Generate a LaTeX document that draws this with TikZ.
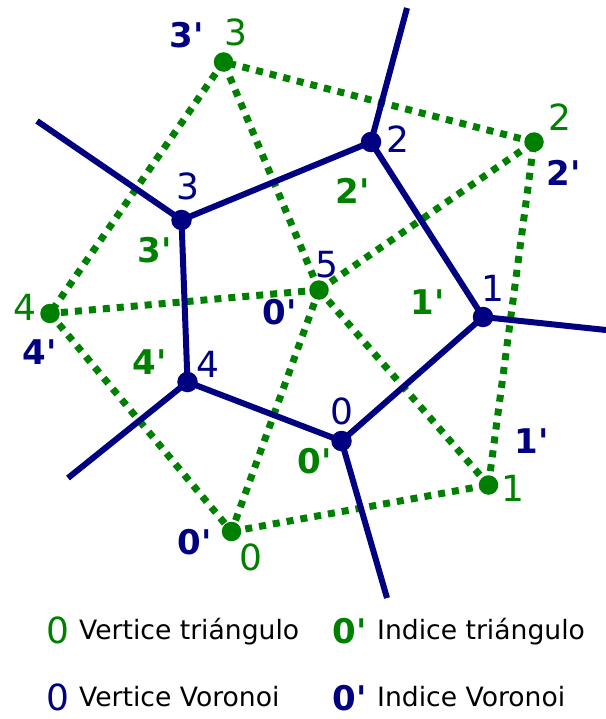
\documentclass[tikz,border=0pt]{standalone}
\usepackage{fontspec}
\setmainfont{DejaVu Sans}[Ligatures=TeXOff]
\definecolor{tgreen}{RGB}{0,128,0}
\definecolor{vblue}{RGB}{0,0,128}
\begin{document}
\begin{tikzpicture}[x=1pt,y=-1pt,
 gdot/.style={circle,fill=tgreen,inner sep=0,minimum size=19.5pt},
 bdot/.style={circle,fill=vblue,inner sep=0,minimum size=20.5pt},
 gedge/.style={tgreen,line width=7pt,dash pattern=on 7pt off 7pt},
 bedge/.style={vblue,line width=6pt},
 num/.style={inner sep=0,font=\fontsize{36}{36}\selectfont},
 idx/.style={inner sep=0,font=\fontsize{34}{34}\selectfont\bfseries},
 lgtxt/.style={inner sep=0,anchor=base west,font=\fontsize{26.6}{26.6}\selectfont}]
\useasboundingbox (0,0) rectangle (605,719);

% coordinates of points
\coordinate (G0) at (231.5,531.5);
\coordinate (G1) at (488.5,485);
\coordinate (G2) at (534,142);
\coordinate (G3) at (223.5,62);
\coordinate (G4) at (50,313.5);
\coordinate (G5) at (319,290);
\coordinate (V0) at (341.5,441);
\coordinate (V1) at (483,317);
\coordinate (V2) at (371,142);
\coordinate (V3) at (181.5,220);
\coordinate (V4) at (187.5,382);
\coordinate (R0) at (387,598);
\coordinate (R1) at (606,330);
\coordinate (R2) at (407,8);
\coordinate (R3) at (37,121);
\coordinate (R4) at (68,478);

% triangulation (dotted green)
\draw[gedge] (G0) -- (G1);
\draw[gedge] (G1) -- (G2);
\draw[gedge] (G2) -- (G3);
\draw[gedge] (G3) -- (G4);
\draw[gedge] (G4) -- (G0);
\draw[gedge] (G5) -- (G0);
\draw[gedge] (G5) -- (G1);
\draw[gedge] (G5) -- (G2);
\draw[gedge] (G5) -- (G3);
\draw[gedge] (G5) -- (G4);

% Voronoi edges (blue)
\draw[bedge] (V3) -- (V2);
\draw[bedge] (V2) -- (V1);
\draw[bedge] (V1) -- (V0);
\draw[bedge] (V0) -- (V4);
\draw[bedge] (V4) -- (V3);
\draw[bedge] (V0) -- (R0);
\draw[bedge] (V1) -- (R1);
\draw[bedge] (V2) -- (R2);
\draw[bedge] (V3) -- (R3);
\draw[bedge] (V4) -- (R4);

% dots
\foreach \i in {0,...,5} { \node[gdot] (g\i) at (G\i) {}; }
\foreach \i in {0,...,4} { \node[bdot] (v\i) at (V\i) {}; }

% triangle vertex labels (green)
\node[num,text=tgreen] (lg0) at (251,557) {0};
\node[num,text=tgreen] (lg1) at (513,488) {1};
\node[num,text=tgreen] (lg2) at (560,117) {2};
\node[num,text=tgreen] (lg3) at (236,32) {3};
\node[num,text=tgreen] (lg4) at (25,307) {4};
\node[num,text=vblue] (lg5) at (327,265) {5};

% Voronoi vertex labels (blue)
\node[num,text=vblue] (lv0) at (341.5,411) {0};
\node[num,text=vblue] (lv1) at (493,288) {1};
\node[num,text=vblue] (lv2) at (398,139) {2};
\node[num,text=vblue] (lv3) at (188,186) {3};
\node[num,text=vblue] (lv4) at (208,364) {4};

% triangle indices (green bold)
\node[idx,text=tgreen] (ig0) at (315,461) {0'};
\node[idx,text=tgreen] (ig1) at (428,302) {1'};
\node[idx,text=tgreen] (ig2) at (353,191) {2'};
\node[idx,text=tgreen] (ig3) at (155,250) {3'};
\node[idx,text=tgreen] (ig4) at (150,362) {4'};

% Voronoi indices (blue bold)
\node[idx,text=vblue] (iv0) at (195,542) {0'};
\node[idx,text=vblue] (iv0b) at (280,312) {0'};
\node[idx,text=vblue] (iv1) at (532,441) {1'};
\node[idx,text=vblue] (iv2) at (564,173) {2'};
\node[idx,text=vblue] (iv3) at (187,35) {3'};
\node[idx,text=vblue] (iv4) at (40,352) {4'};

% legend
\node[num,text=tgreen] (k1) at (57.5,630.5) {0};
\node[lgtxt] (t1) at (79,639) {Vertice triángulo};
\node[idx,text=tgreen] (k2) at (350,631.5) {0'};
\node[lgtxt] (t2) at (377,639) {Indice triángulo};
\node[num,text=vblue] (k3) at (57.5,697) {0};
\node[lgtxt] (t3) at (79,706.5) {Vertice Voronoi};
\node[idx,text=vblue] (k4) at (350,698.5) {0'};
\node[lgtxt] (t4) at (377,706.5) {Indice Voronoi};
\end{tikzpicture}
\end{document}
